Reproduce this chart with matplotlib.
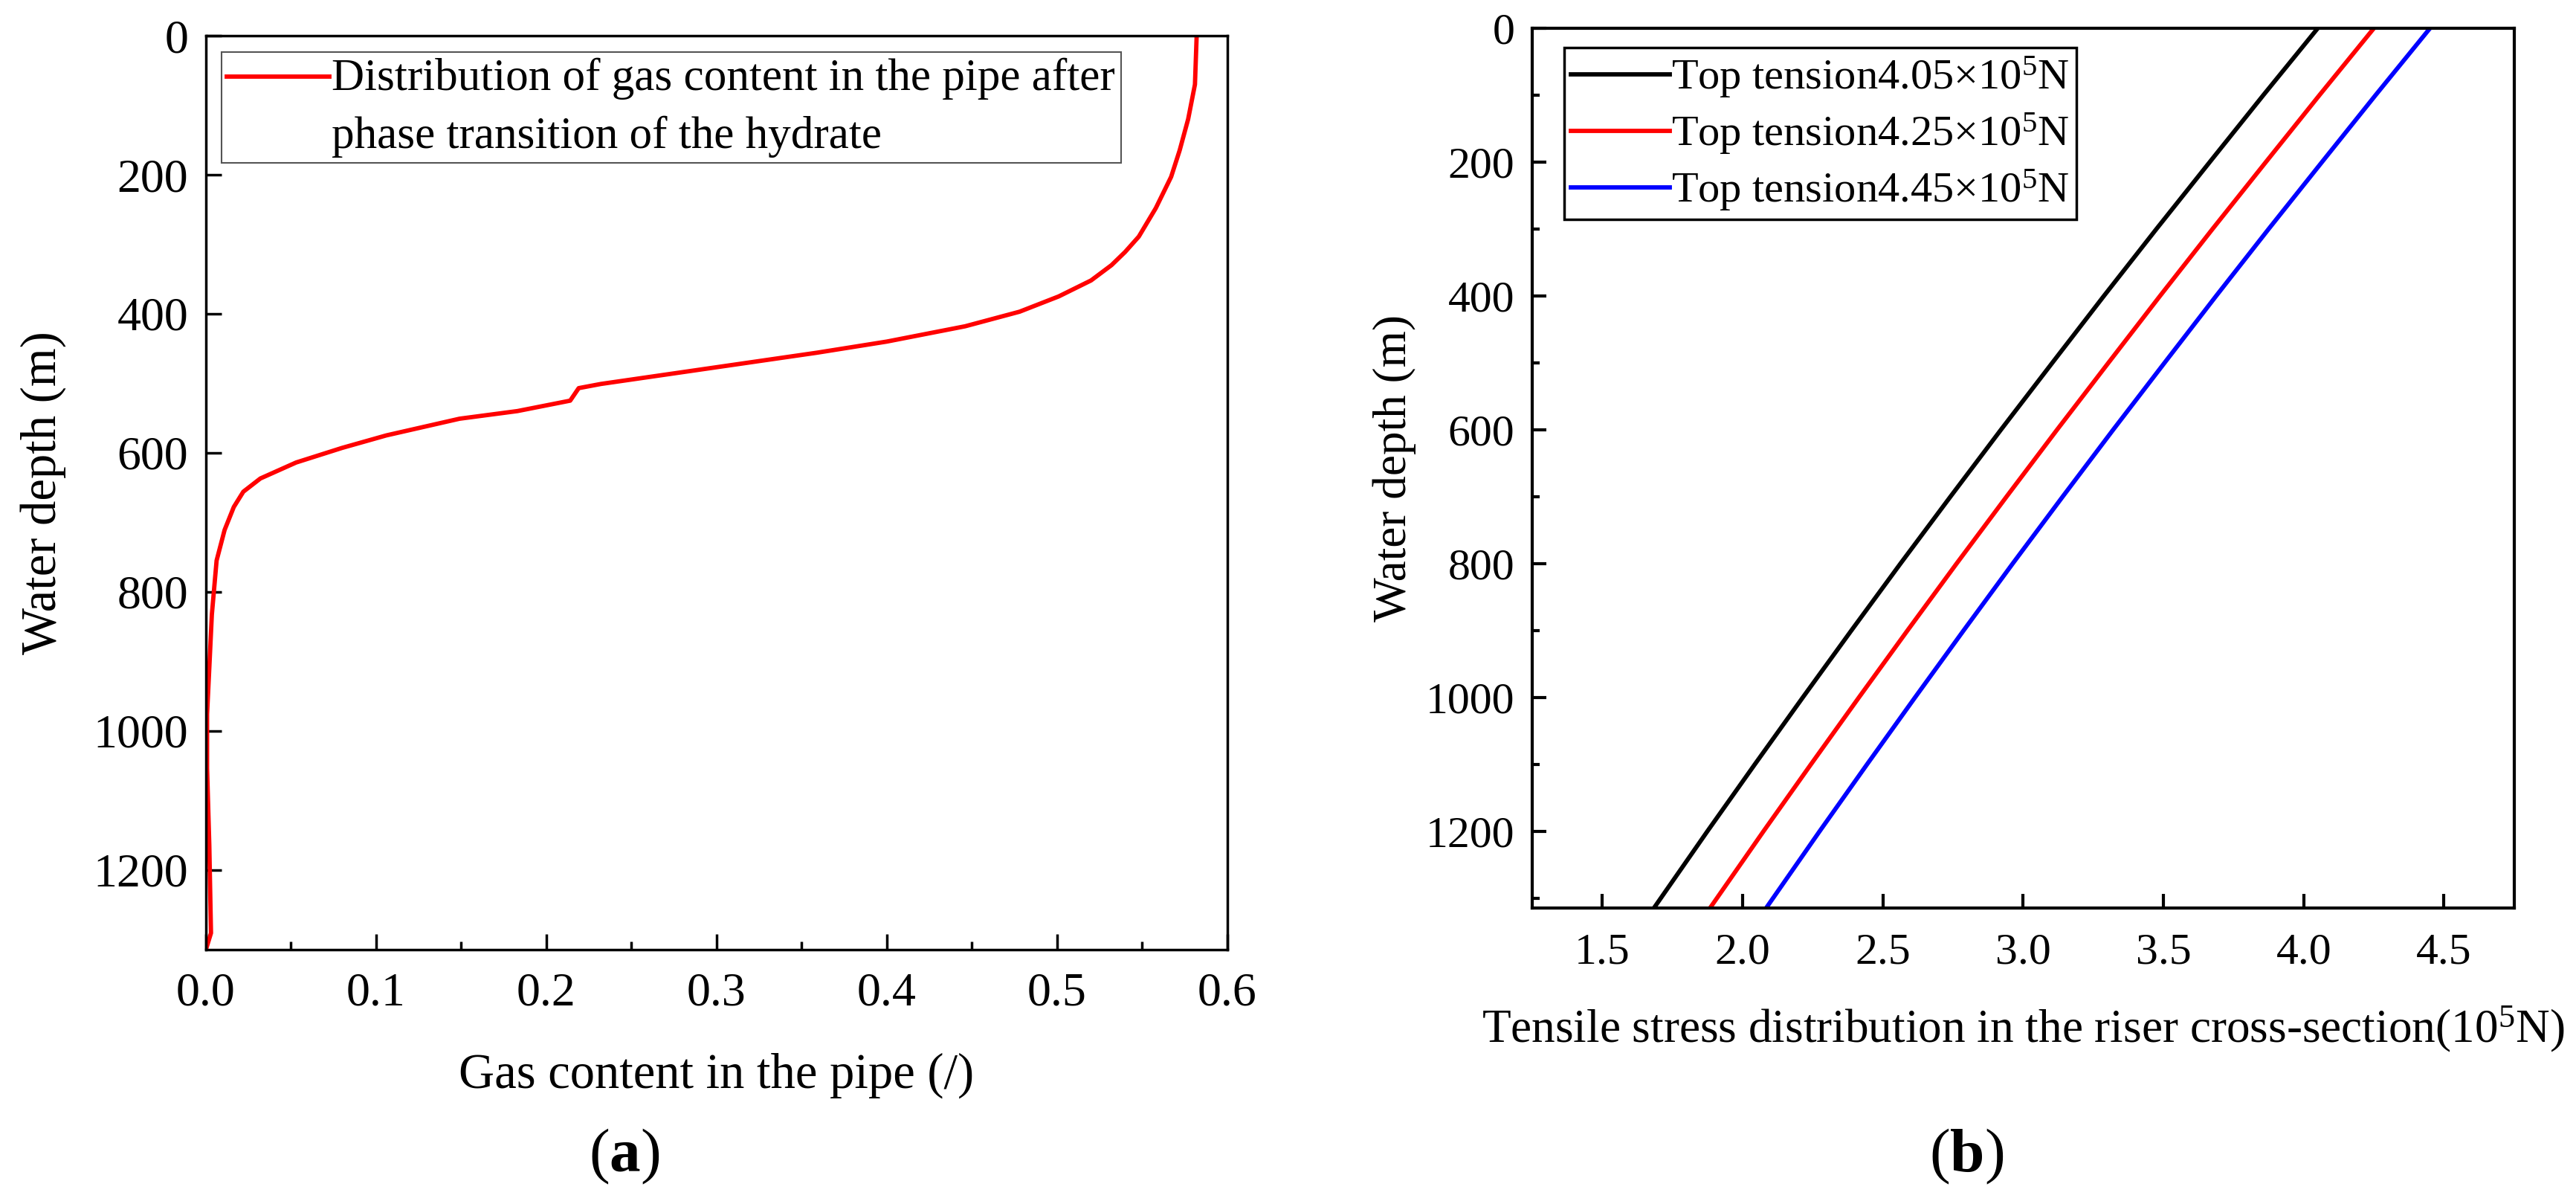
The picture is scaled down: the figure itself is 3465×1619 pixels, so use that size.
import matplotlib.pyplot as plt
from matplotlib.ticker import MultipleLocator

SERIF = ['Liberation Serif', 'DejaVu Serif']
plt.rcParams['font.family'] = SERIF
plt.rcParams['mathtext.fontset'] = 'custom'
plt.rcParams['mathtext.rm'] = 'Liberation Serif'
plt.rcParams['mathtext.it'] = 'Liberation Serif:italic'
plt.rcParams['mathtext.bf'] = 'Liberation Serif:bold'

# (a) gas content in the pipe vs water depth
gas_depth = [0, 70, 120, 165, 203, 248, 289, 311, 330, 352, 375, 397, 418, 440,
             456, 501, 507, 525, 540, 551, 575, 593, 614, 637, 656, 678, 711,
             755, 833, 910, 976, 1054, 1164, 1291, 1315]
gas_content = [0.582, 0.581, 0.577, 0.572, 0.567, 0.558, 0.548, 0.540, 0.532,
               0.520, 0.501, 0.478, 0.446, 0.400, 0.359, 0.232, 0.219, 0.214,
               0.183, 0.149, 0.106, 0.080, 0.053, 0.032, 0.022, 0.0164, 0.011,
               0.0063, 0.0035, 0.002, 0.0007, 0.0007, 0.002, 0.003, 0.0]

# (b) tensile stress along the riser (10^5 N) for three top tensions
tension_depth = [0, 100, 200, 300, 400, 500, 600, 700, 800, 900, 1000, 1100, 1200, 1315]
tension_405 = [4.05, 3.856, 3.665, 3.475, 3.288, 3.104, 2.921, 2.741, 2.563, 2.388, 2.215, 2.044, 1.875, 1.684]
tension_425 = [4.25, 4.056, 3.865, 3.675, 3.488, 3.304, 3.121, 2.941, 2.763, 2.588, 2.415, 2.244, 2.075, 1.884]
tension_445 = [4.45, 4.256, 4.065, 3.875, 3.688, 3.504, 3.321, 3.141, 2.963, 2.788, 2.615, 2.444, 2.275, 2.084]
tension_labels = [r'Top tension4.05×10$^5$N', r'Top tension4.25×10$^5$N',
                  r'Top tension4.45×10$^5$N']
tension_colors = ['#000000', '#ff0000', '#0000ff']

fig = plt.figure(figsize=(34.66, 16.19), dpi=100)

# ---- panel (a)
ax1 = fig.add_axes([0.0799, 0.2112, 0.3964, 0.7591])
ax1.plot(gas_content, gas_depth, color='#ff0000', lw=4.2,
         label='Distribution of gas content in the pipe after\nphase transition of the hydrate')
ax1.set_xlim(0, 0.6)
ax1.set_ylim(1315, 0)
ax1.xaxis.set_major_locator(MultipleLocator(0.1))
ax1.xaxis.set_minor_locator(MultipleLocator(0.05))
ax1.yaxis.set_major_locator(MultipleLocator(200))
ax1.tick_params(axis='x', which='major', direction='in', length=15, width=2.5, pad=22,
                labelsize=46, labelfontfamily=SERIF)
ax1.tick_params(axis='x', which='minor', direction='in', length=8, width=2.5)
ax1.tick_params(axis='y', which='major', direction='in', length=15, width=2.5, pad=17,
                labelsize=46, labelfontfamily=SERIF)
for s in ax1.spines.values():
    s.set_linewidth(2.5)
ax1.set_xlabel('Gas content in the pipe (/)', fontsize=48, family=SERIF)
ax1.xaxis.set_label_coords(0.5, -0.1375)
ax1.xaxis.label.set_va('center')
ax1.set_ylabel('Water depth (m)', fontsize=48, family=SERIF)
ax1.yaxis.set_label_coords(-0.1594, 0.5)
ax1.yaxis.label.set_va('center')
leg1 = ax1.legend(loc='upper left', bbox_to_anchor=(0.0153, 0.982), borderaxespad=0,
                  fontsize=44, frameon=True, fancybox=False, framealpha=1,
                  edgecolor='#555555', borderpad=0.12, handlelength=2.26,
                  handletextpad=0.05)
leg1.get_frame().set_linewidth(1.5)
leg1.get_texts()[0].set_linespacing(1.5)
# the handle sits on the first line of the two-line label
h = leg1.legend_handles[0]
h.set_ydata([y + 30 for y in h.get_ydata()])

# ---- panel (b)
ax2 = fig.add_axes([0.5946, 0.2458, 0.3811, 0.7307])
for vals, lab, col in zip([tension_405, tension_425, tension_445], tension_labels, tension_colors):
    ax2.plot(vals, tension_depth, color=col, lw=4.2, label=lab)
ax2.set_xlim(1.25, 4.75)
ax2.set_ylim(1315, 0)
ax2.xaxis.set_major_locator(MultipleLocator(0.5))
ax2.yaxis.set_major_locator(MultipleLocator(200))
ax2.yaxis.set_minor_locator(MultipleLocator(100))
ax2.tick_params(axis='x', which='major', direction='in', length=14, width=3, pad=24,
                labelsize=43, labelfontfamily=SERIF)
ax2.tick_params(axis='y', which='major', direction='in', length=14, width=3, pad=17,
                labelsize=43, labelfontfamily=SERIF)
ax2.tick_params(axis='y', which='minor', direction='in', length=7, width=3)
for s in ax2.spines.values():
    s.set_linewidth(3)
ax2.set_xlabel(r'Tensile stress distribution in the riser cross-section(10$^5$N)',
               fontsize=45.5, family=SERIF)
ax2.xaxis.set_label_coords(0.5, -0.1378)
ax2.xaxis.label.set_va('center')
ax2.set_ylabel('Water depth (m)', fontsize=45.5, family=SERIF)
ax2.yaxis.set_label_coords(-0.140, 0.5)
ax2.yaxis.label.set_va('center')
leg2 = ax2.legend(loc='upper left', bbox_to_anchor=(0.0326, 0.978), borderaxespad=0,
                  fontsize=42, frameon=True, fancybox=False, framealpha=1,
                  edgecolor='#000000', borderpad=0.16, handlelength=2.28,
                  handletextpad=0.03, labelspacing=0.26)
leg2.get_frame().set_linewidth(2.5)

# panel captions
fig.text(840 / 3466, 1 - 1555 / 1619, r'($\mathbf{a}$)', ha='center', va='center', fontsize=60)
fig.text(2645 / 3466, 1 - 1555 / 1619, r'($\mathbf{b}$)', ha='center', va='center', fontsize=60)

fig.savefig('out.png', dpi=100)
